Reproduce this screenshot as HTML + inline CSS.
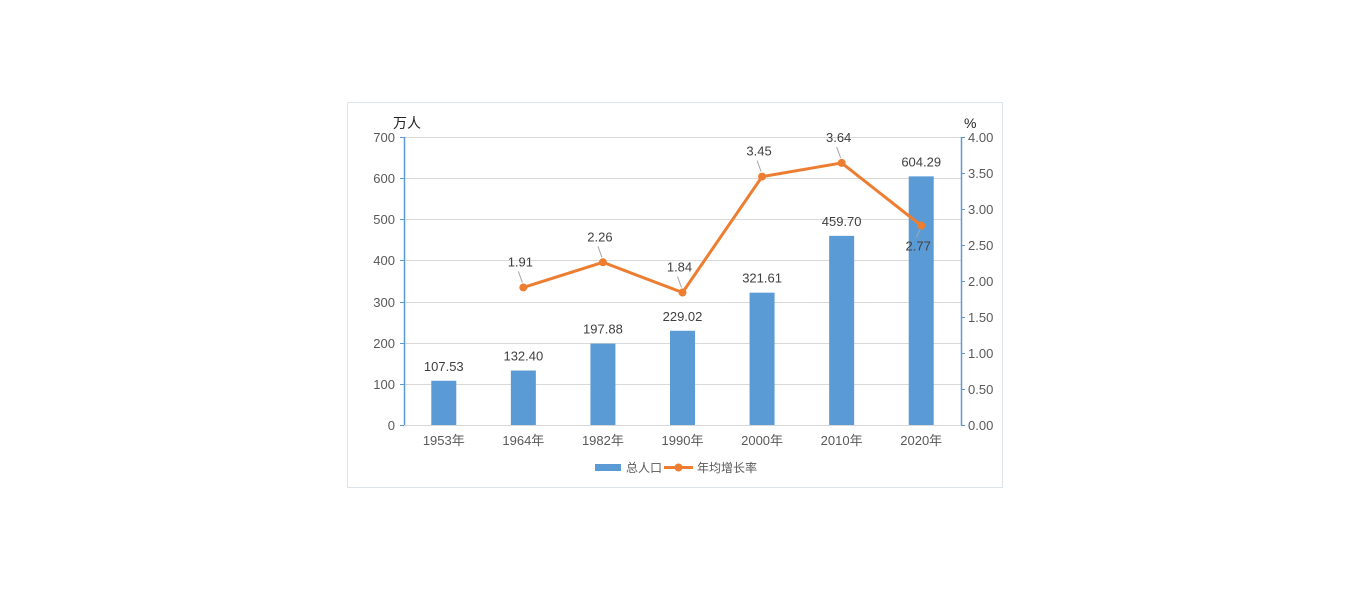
<!DOCTYPE html>
<html><head><meta charset="utf-8"><style>
body{margin:0;background:#fff;}
svg{display:block;font-family:"Liberation Sans","Noto Sans CJK SC",sans-serif;}
</style></head><body>
<svg id="c" width="1350" height="589">
<rect x="347.5" y="102.5" width="655" height="385" fill="#fff" stroke="#dde3ea"/>
<g id="grid"></g><g id="bars"></g><g id="line"></g><g id="labels"></g>
<text x="393" y="128" font-size="14" fill="#222">万人</text>
<text x="964" y="128" font-size="14" fill="#222">%</text>
<g>
<rect x="595" y="464" width="26" height="7" fill="#5b9bd5"/>
<text x="626" y="472" font-size="12" fill="#595959">总人口</text>
<line x1="664" y1="467.5" x2="693" y2="467.5" stroke="#ed7d31" stroke-width="3"/>
<circle cx="678.5" cy="467.5" r="4" fill="#ed7d31"/>
<text x="697" y="472" font-size="12" fill="#595959">年均增长率</text>
</g>
</svg>
<script>
const categories=["1953年","1964年","1982年","1990年","2000年","2010年","2020年"];
const population=[107.53,132.40,197.88,229.02,321.61,459.70,604.29];
const growth=[null,1.91,2.26,1.84,3.45,3.64,2.77];
const leftTicks=[0,100,200,300,400,500,600,700];
const rightTicks=[0,0.5,1,1.5,2,2.5,3,3.5,4];
const NS="http://www.w3.org/2000/svg";
const L=404,R=961,T=137,B=425;
const yL=v=>B-(v/700)*(B-T), yR=v=>B-(v/4)*(B-T);
const bw=(R-L)/categories.length, xC=i=>L+bw*(i+0.5);
function mk(tag,attrs,parent,txt){const e=document.createElementNS(NS,tag);for(const k in attrs)e.setAttribute(k,attrs[k]);if(txt!==undefined)e.textContent=txt;document.getElementById(parent).appendChild(e);return e;}
leftTicks.forEach(v=>{const y=Math.round(yL(v))+0.5;
 let g=mk('line',{x1:L,x2:R,y1:y,y2:y,stroke:'#d9d9d9','stroke-width':1},'grid');
 
 
 let t=mk('text',{x:395,y:y+4.5,'text-anchor':'end','font-size':13,fill:'#595959'},'grid',String(v));
 
 
 let k=mk('line',{x1:L-4,x2:L,y1:y,y2:y,stroke:'#5b9bd5'},'grid');
 
 });
rightTicks.forEach(v=>{const y=Math.round(yR(v))+0.5;
 let t=mk('text',{x:968,y:y+4.5,'font-size':13,fill:'#595959'},'grid',v.toFixed(2));
 
 
 let k=mk('line',{x1:R,x2:R+4,y1:y,y2:y,stroke:'#5b9bd5'},'grid');
 
 });
let a=mk('line',{x1:L+0.5,x2:L+0.5,y1:T,y2:B,stroke:'#5b9bd5','stroke-width':1.5},'grid');


a=mk('line',{x1:R+0.5,x2:R+0.5,y1:T,y2:B,stroke:'#5b9bd5','stroke-width':1.5},'grid');


categories.forEach((c,i)=>{
 let t=mk('text',{x:xC(i),y:445,'text-anchor':'middle','font-size':13,fill:'#595959'},'labels',c);
 
 
 const y=yL(population[i]);
 let b=mk('rect',{x:xC(i)-12.5,y:y,width:25,height:B-y,fill:'#5b9bd5'},'bars');
 
 
 let l=mk('text',{x:xC(i),y:y-10,'text-anchor':'middle','font-size':13,fill:'#404040'},'labels',population[i].toFixed(2));
 
 
});
let pts=[];growth.forEach((v,i)=>{if(v!==null)pts.push([xC(i),yR(v),v]);});
let p=mk('polyline',{points:pts.map(q=>q[0]+','+q[1]).join(' '),fill:'none',stroke:'#ed7d31','stroke-width':3,'stroke-linejoin':'round'},'line');


pts.forEach((q,j)=>{
 let c=mk('circle',{cx:q[0],cy:q[1],r:4,fill:'#ed7d31'},'line');
 
 
 const below=j===pts.length-1;
 const ly=below?q[1]+25:q[1]-21;
 let lt=mk('text',{x:q[0]-3,y:ly,'text-anchor':'middle','font-size':13,fill:'#404040'},'labels',q[2].toFixed(2));
 
 
 let ld=mk('line',{x1:q[0]-5,y1:below?q[1]+12:q[1]-16,x2:q[0]-1,y2:below?q[1]+4:q[1]-5,stroke:'#a6a6a6'},'labels');
 
 
});
</script>
</body></html>
